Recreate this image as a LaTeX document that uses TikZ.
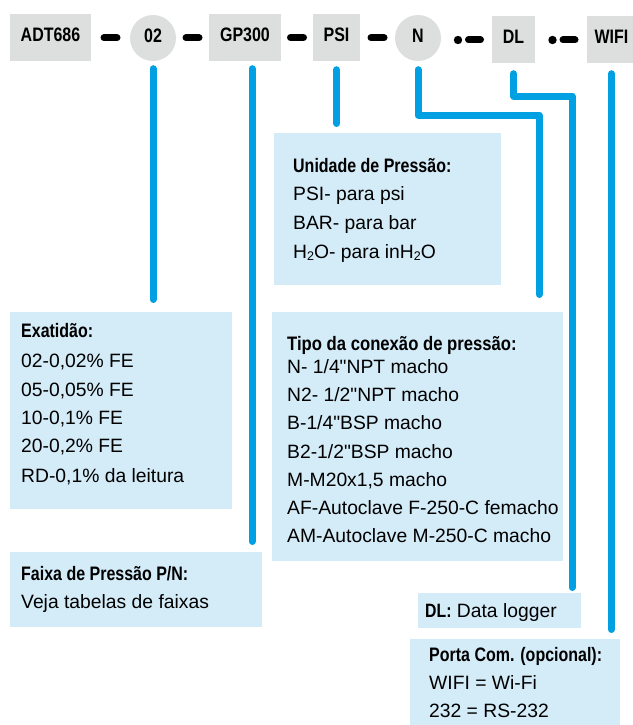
\documentclass[tikz,border=0pt]{standalone}
\usepackage{fontspec}
\setmainfont{Liberation Sans}[Ligatures=TeXOff]
\newfontfamily\hdfont{Liberation Sans}[FakeStretch=0.82,Ligatures=TeXOff]
\newfontfamily\hdwide{Liberation Sans}[FakeStretch=0.855,Ligatures=TeXOff]
\usetikzlibrary{calc}
\definecolor{boxgrey}{RGB}{221,222,222}
\definecolor{lblue}{RGB}{212,235,248}
\definecolor{lineblue}{RGB}{0,160,227}
\newcommand\subtwo{\raisebox{-0.28ex}{\fontsize{12.5}{12.5}\selectfont 2}}
\tikzset{
  code/.style={fill=boxgrey, inner sep=0pt, text height=14pt, text depth=5pt,
    font=\hdfont\bfseries\fontsize{19.5}{20}\selectfont},
  codebox/.style={code, rectangle, minimum height=47pt},
  codecirc/.style={code, circle, minimum size=46pt},
  info/.style={fill=lblue, draw=none, rectangle, inner sep=0pt, anchor=north west},
  txt/.style={anchor=base west, inner sep=0pt, font=\fontsize{19.3}{24}\selectfont},
  hd/.style={anchor=base west, inner sep=0pt, font=\hdfont\bfseries\fontsize{19.5}{24}\selectfont},
  blk/.style={line width=7pt, line cap=round},
  blu/.style={draw=lineblue, line width=7pt, line cap=round, line join=round},
}
\begin{document}
\begin{tikzpicture}[x=1pt,y=-1pt]
\useasboundingbox (0,0) rectangle (632,725);

% code row
\node[codebox, minimum width=81pt] (adt) at (50.5,37.5) {ADT686};
\node[codecirc] (c02) at (153,38) {02};
\node[codebox, minimum width=72pt] (gp) at (245,37.5) {GP300};
\node[codebox, minimum width=47pt] (psi) at (336.5,37.5) {PSI};
\node[codecirc] (cn) at (418,38) {N};
\node[codebox, minimum width=43pt] (dl) at (513.5,39.5) {DL};
\node[codebox, minimum width=49pt] (wifi) at (611.5,39.5) {WIFI};

% separators
\draw[blk] ($(adt.east)!0.5!(c02.west)+(-6.5,0)$) -- +(13,0);
\draw[blk] ($(c02.east)!0.5!(gp.west)+(-6.5,0)$) -- +(13,0);
\draw[blk] ($(gp.east)!0.5!(psi.west)+(-6.5,0)$) -- +(13,0);
\draw[blk] ($(psi.east)!0.5!(cn.west)+(-6.5,0)$) -- +(13,0);
\coordinate (m1) at ($(cn.east)!0.5!(dl.west)$);
\coordinate (m2) at ($(dl.east)!0.5!(wifi.west)$);
\fill ($(m1 |- dl.west)+(-8.5,0.5)$) circle (4.2pt);
\draw[blk] ($(m1 |- dl.west)+(2,0.5)$) -- +(12,0);
\fill ($(m2 |- dl.west)+(-8.5,0.5)$) circle (4.2pt);
\draw[blk] ($(m2 |- dl.west)+(2,0.5)$) -- +(12,0);

% info boxes
\node[info, minimum width=227pt, minimum height=152pt] (unid) at (274,133) {};
\node[info, minimum width=222pt, minimum height=197pt] (exat) at (10,312) {};
\node[info, minimum width=291pt, minimum height=249pt] (tipo) at (272,312) {};
\node[info, minimum width=252pt, minimum height=75pt] (faixa) at (10,552) {};
\node[info, minimum width=163pt, minimum height=35pt] (dlbox) at (418,593) {};
\node[info, minimum width=210pt, minimum height=90pt] (porta) at (410,639) {};

% connectors
\draw[blu] ($(c02.south)+(0,7.5)$) -- ($(c02.south |- exat.north)+(0,-12.5)$);
\draw[blu] ($(gp.south)+(7,7.5)$) -- ($(gp.south |- faixa.north)+(7,-10.5)$);
\draw[blu] ($(psi.south)+(0,8.5)$) -- ($(psi.south |- unid.north)+(0,-9.5)$);
\coordinate (nturn) at (539,115);
\draw[blu] ($(cn.south)+(0,8.5)$) |- (nturn) -- ($(nturn |- tipo.north)+(0,-17.5)$);
\coordinate (dlturn) at (572,96);
\draw[blu] ($(dl.south)+(0,10.5)$) |- (dlturn) -- ($(dlturn |- dlbox.north)+(0,-5.5)$);
\draw[blu] ($(wifi.south)+(0,10.5)$) -- ($(wifi.south |- porta.north)+(0,-9.5)$);

% texts: Unidade
\node[hd] (u0) at (293,172) {Unidade de Pressão:};
\node[txt] (u1) at (293,200) {PSI- para psi};
\node[txt] (u2) at (293,229) {BAR- para bar};
\node[txt] (u3) at (293,258) {H\subtwo O- para inH\subtwo O};

% Exatidao
\node[hd] (e0) at (21,337) {Exatidão:};
\node[txt] (e1) at (21,367) {02-0,02\% FE};
\node[txt] (e2) at (21,396) {05-0,05\% FE};
\node[txt] (e3) at (21,424) {10-0,1\% FE};
\node[txt] (e4) at (21,452) {20-0,2\% FE};
\node[txt] (e5) at (21,482) {RD-0,1\% da leitura};

% Tipo
\node[hd, font=\hdwide\bfseries\fontsize{19.5}{24}\selectfont] (t0) at (287,350) {Tipo da conexão de pressão:};
\node[txt] (t1) at (287,373) {N- 1/4"NPT macho};
\node[txt] (t2) at (287,401) {N2- 1/2"NPT macho};
\node[txt] (t3) at (287,429) {B-1/4"BSP macho};
\node[txt] (t4) at (287,458) {B2-1/2"BSP macho};
\node[txt] (t5) at (287,486) {M-M20x1,5 macho};
\node[txt] (t6) at (287,514) {AF-Autoclave F-250-C femacho};
\node[txt] (t7) at (287,542) {AM-Autoclave M-250-C macho};

% Faixa
\node[hd] (f0) at (21,580) {Faixa de Pressão P/N:};
\node[txt] (f1) at (21,608) {Veja tabelas de faixas};

% DL
\node[txt] (d0) at (425,617) {{\hdfont\bfseries DL:} Data logger};

% Porta
\node[hd] (p0) at (429,661) {Porta Com. (opcional):};
\node[txt] (p1) at (429,689) {WIFI = Wi-Fi};
\node[txt] (p2) at (429,717) {232 = RS-232};
\end{tikzpicture}
\end{document}
